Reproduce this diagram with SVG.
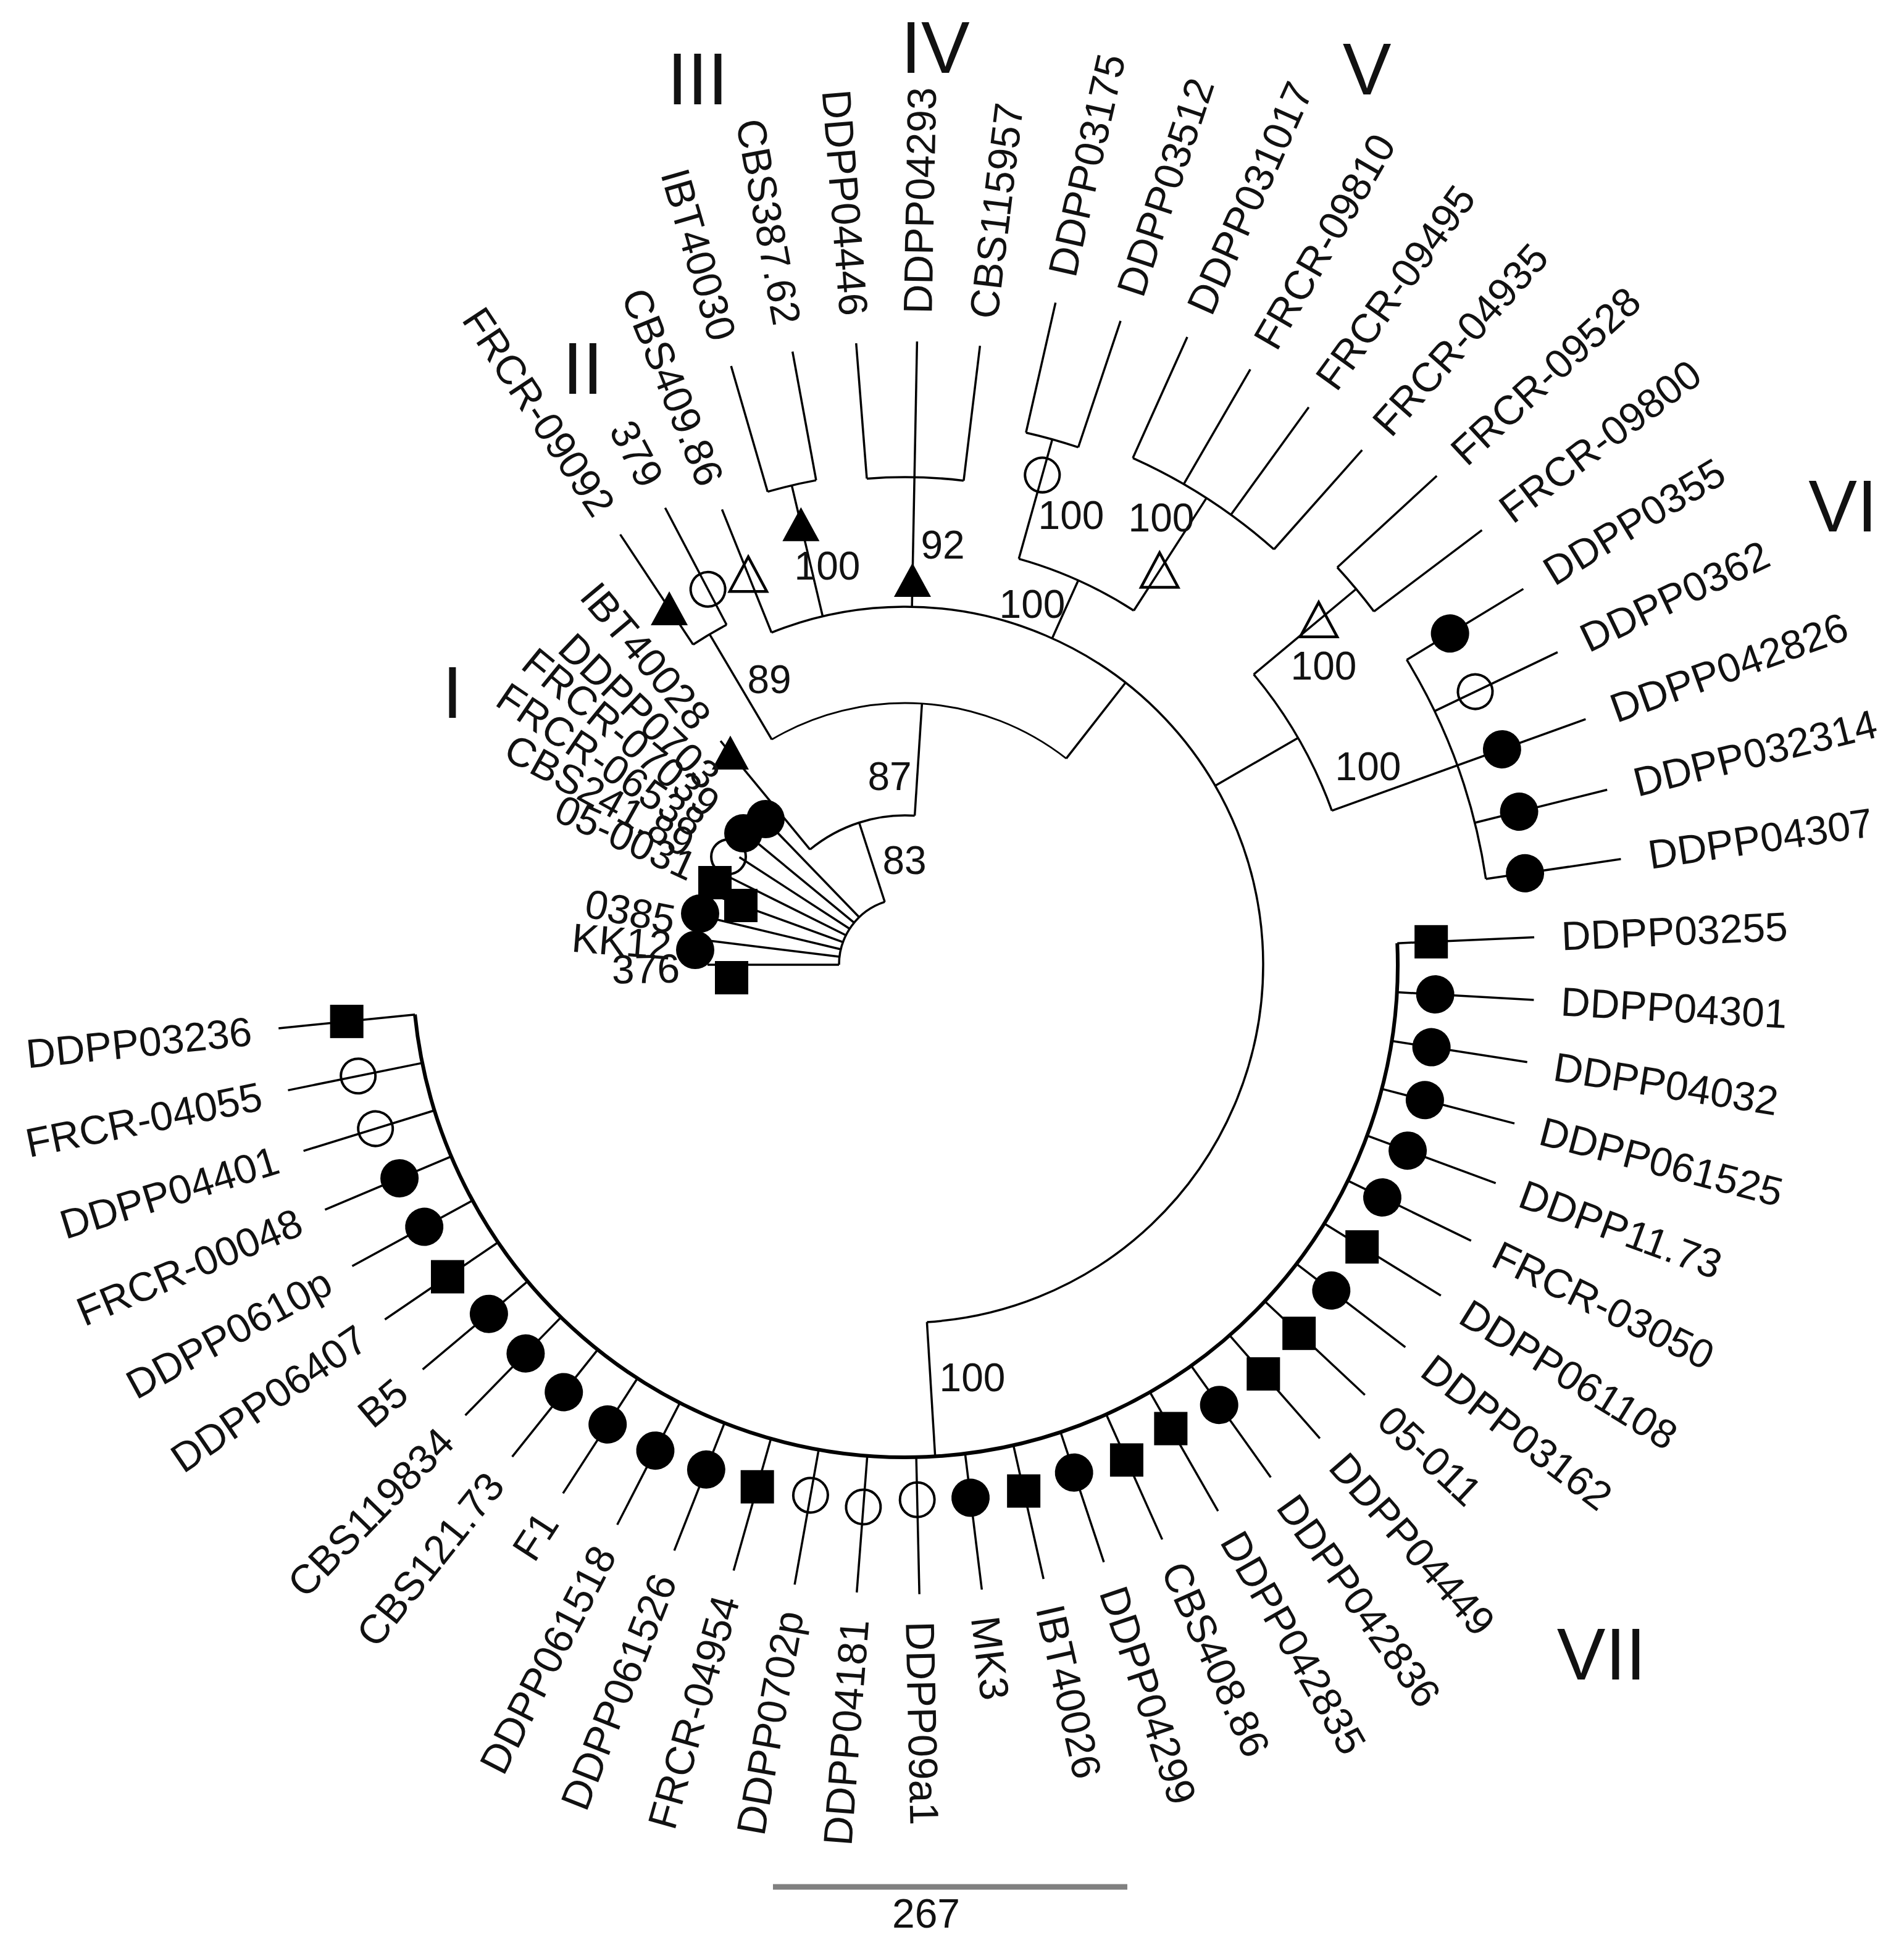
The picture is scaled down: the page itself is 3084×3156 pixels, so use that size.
<svg xmlns="http://www.w3.org/2000/svg" width="3084" height="3156" viewBox="0 0 3084 3156">
<defs>
<style>
.c path,.c circle{fill:none;stroke:#000;stroke-width:3.5}
text{font-family:"Liberation Sans",Arial,Helvetica,sans-serif;fill:#111}
.t{font-size:66px;dominant-baseline:central}
.e{text-anchor:end}
.bs{font-size:64px;text-anchor:middle;dominant-baseline:central}
.num{font-size:118px;text-anchor:middle;dominant-baseline:central}
</style>
<rect id="sq" x="-27" y="-27" width="54" height="54" fill="#000"/>
<circle id="fc" r="31" fill="#000"/>
<circle id="oc" r="28" fill="none" stroke="#000" stroke-width="4"/>
<path id="ft" d="M0 -28L30 27H-30Z" fill="#000"/>
<path id="ot" d="M0 -29L30 27H-30Z" fill="none" stroke="#000" stroke-width="4.5"/>
</defs>
<rect width="3084" height="3156" fill="#fff"/>

<g id="connectors" class="c" transform="translate(1466,1563)">
<circle r="107" pathLength="360" stroke-dasharray="72.1 9999" transform="rotate(-180)"/>
<circle r="242" pathLength="360" stroke-dasharray="43.2 9999" transform="rotate(-129.5)"/>
<circle r="424" pathLength="360" stroke-dasharray="68.6 9999" transform="rotate(-120.6)" style="stroke-width:2.8"/>
<circle r="580" pathLength="360" stroke-dasharray="198.4 9999" transform="rotate(-111.9)"/>
<circle r="622" pathLength="360" stroke-dasharray="5.8 9999" transform="rotate(-123.5)"/>
<circle r="798" pathLength="360" stroke-dasharray="5.8 9999" transform="rotate(-106.2)"/>
<circle r="790" pathLength="360" stroke-dasharray="11.4 9999" transform="rotate(-94.5)"/>
<circle r="683" pathLength="360" stroke-dasharray="17.2 9999" transform="rotate(-74.35)"/>
<circle r="884" pathLength="360" stroke-dasharray="5.7 9999" transform="rotate(-77.2)"/>
<circle r="900" pathLength="360" stroke-dasharray="17.4 9999" transform="rotate(-65.8)"/>
<circle r="735" pathLength="360" stroke-dasharray="19.95 9999" transform="rotate(-39.8)"/>
<circle r="951" pathLength="360" stroke-dasharray="5.6 9999" transform="rotate(-42.6)"/>
<circle r="951" pathLength="360" stroke-dasharray="22.9 9999" transform="rotate(-31.3)"/>
<circle r="798" pathLength="360" stroke-dasharray="176.7 9999" transform="rotate(-2.5)" style="stroke-width:6"/>
<!-- stems -->
<path d="M107 0H242" transform="rotate(-107.9)"/>
<path d="M242 0H470" transform="rotate(-129.5)"/>
<path d="M242 0H424" transform="rotate(-86.3)"/>
<path d="M424 0H622" transform="rotate(-120.6)"/>
<path d="M424 0H580" transform="rotate(-52)"/>
<path d="M580 0H798" transform="rotate(-103.3)"/>
<path d="M580 0H683" transform="rotate(-65.75)"/>
<path d="M683 0H884" transform="rotate(-74.35)"/>
<path d="M683 0H900" transform="rotate(-57.15)"/>
<path d="M580 0H735" transform="rotate(-30)"/>
<path d="M735 0H951" transform="rotate(-39.8)"/>
<path d="M580 0H798" transform="rotate(86.5)"/>
<!-- fan leaves (cluster I) -->
<path d="M107 0H320" transform="rotate(-134)"/>
<path d="M107 0H320" transform="rotate(-140.5)"/>
<path d="M107 0H320" transform="rotate(-147)"/>
<path d="M107 0H320" transform="rotate(-153.5)"/>
<path d="M107 0H320" transform="rotate(-160)"/>
<path d="M107 0H320" transform="rotate(-166.5)"/>
<path d="M107 0H320" transform="rotate(-173)"/>
<path d="M107 0H320" transform="rotate(-180)"/>
<!-- top leaves -->
<path d="M622 0H836" transform="rotate(-123.5)"/>
<path d="M622 0H836" transform="rotate(-117.7)"/>
<path d="M580 0H795" transform="rotate(-111.9)"/>
<path d="M798 0H1010" transform="rotate(-106.2)"/>
<path d="M798 0H1010" transform="rotate(-100.4)"/>
<path d="M790 0H1010" transform="rotate(-94.5)"/>
<path d="M580 0H1010" transform="rotate(-88.9)"/>
<path d="M790 0H1010" transform="rotate(-83.1)"/>
<path d="M884 0H1100" transform="rotate(-77.2)"/>
<path d="M884 0H1100" transform="rotate(-71.5)"/>
<path d="M900 0H1115" transform="rotate(-65.8)"/>
<path d="M900 0H1115" transform="rotate(-59.9)"/>
<path d="M900 0H1115" transform="rotate(-54.1)"/>
<path d="M900 0H1115" transform="rotate(-48.4)"/>
<path d="M951 0H1170" transform="rotate(-42.6)"/>
<path d="M951 0H1170" transform="rotate(-37)"/>
<path d="M951 0H1172" transform="rotate(-31.3)"/>
<path d="M951 0H1172" transform="rotate(-25.6)"/>
<path d="M735 0H1172" transform="rotate(-19.85)"/>
<path d="M951 0H1172" transform="rotate(-14)"/>
<path d="M951 0H1172" transform="rotate(-8.4)"/>
<!-- VII leaves -->
<path d="M798 0H1020" transform="rotate(-2.5)"/>
<path d="M798 0H1020" transform="rotate(3.2)"/>
<path d="M798 0H1020" transform="rotate(8.9)"/>
<path d="M798 0H1020" transform="rotate(14.6)"/>
<path d="M798 0H1020" transform="rotate(20.3)"/>
<path d="M798 0H1020" transform="rotate(26)"/>
<path d="M798 0H1020" transform="rotate(31.7)"/>
<path d="M798 0H1020" transform="rotate(37.4)"/>
<path d="M798 0H1020" transform="rotate(43.1)"/>
<path d="M798 0H1020" transform="rotate(48.8)"/>
<path d="M798 0H1020" transform="rotate(54.5)"/>
<path d="M798 0H1020" transform="rotate(60.2)"/>
<path d="M798 0H1020" transform="rotate(65.9)"/>
<path d="M798 0H1020" transform="rotate(71.6)"/>
<path d="M798 0H1020" transform="rotate(77.3)"/>
<path d="M798 0H1020" transform="rotate(83)"/>
<path d="M798 0H1020" transform="rotate(88.7)"/>
<path d="M798 0H1020" transform="rotate(94.4)"/>
<path d="M798 0H1020" transform="rotate(100.1)"/>
<path d="M798 0H1020" transform="rotate(105.8)"/>
<path d="M798 0H1020" transform="rotate(111.5)"/>
<path d="M798 0H1020" transform="rotate(117.2)"/>
<path d="M798 0H1020" transform="rotate(122.9)"/>
<path d="M798 0H1020" transform="rotate(128.6)"/>
<path d="M798 0H1020" transform="rotate(134.3)"/>
<path d="M798 0H1020" transform="rotate(140)"/>
<path d="M798 0H1020" transform="rotate(145.7)"/>
<path d="M798 0H1020" transform="rotate(151.4)"/>
<path d="M798 0H1020" transform="rotate(157.1)"/>
<path d="M798 0H1020" transform="rotate(162.8)"/>
<path d="M798 0H1020" transform="rotate(168.5)"/>
<path d="M798 0H1020" transform="rotate(174.2)"/>
</g>

<g id="nodes" transform="translate(1466,1563)">
<!-- cluster I -->
<g id="leaf-IBT40028"><use href="#ft" transform="rotate(-129.5) translate(445 0) rotate(129.5)"/><text class="t e" transform="rotate(-130) translate(510 0) rotate(180)">IBT40028</text></g>
<g id="leaf-DDPP0703"><use href="#fc" transform="translate(-226,-236)"/><text class="t e" transform="rotate(-136.3) translate(430 0) rotate(180)">DDPP0703</text></g>
<g id="leaf-FRCR-07039"><use href="#fc" transform="translate(-262,-213)"/><text class="t e" transform="rotate(-140.7) translate(400 0) rotate(180)">FRCR-07039</text></g>
<g id="leaf-FRCR-06538"><use href="#oc" transform="translate(-286,-175)"/><text class="t e" transform="rotate(-146) translate(400 0) rotate(180)">FRCR-06538</text></g>
<g id="leaf-CBS241.89"><use href="#sq" transform="translate(-308,-133)"/><text class="t e" transform="rotate(-151) translate(397 0) rotate(180)">CBS241.89</text></g>
<g id="leaf-05-0031"><use href="#sq" transform="translate(-266,-96)"/><text class="t e" transform="rotate(-155.5) translate(376 0) rotate(180)">05-0031</text></g>
<g id="leaf-0385"><use href="#fc" transform="translate(-332,-83)"/><text class="t e" transform="rotate(-169) translate(380 0) rotate(180)">0385</text></g>
<g id="leaf-KK12"><use href="#fc" transform="translate(-340,-24)"/><text class="t e" transform="rotate(-175.3) translate(380 0) rotate(180)">KK12</text></g>
<g id="leaf-376"><use href="#sq" transform="translate(-281,21)"/><text class="t e" transform="rotate(-180.9) translate(365 0) rotate(180)">376</text></g>
<!-- II -->
<g id="leaf-FRCR-09092"><use href="#ft" transform="rotate(-123.5) translate(692 0) rotate(123.5)"/><text class="t e" transform="rotate(-123.5) translate(880 0) rotate(180)">FRCR-09092</text></g>
<g id="leaf-379"><use href="#oc" transform="rotate(-117.7) translate(687 0)"/><text class="t e" transform="rotate(-117.7) translate(880 0) rotate(180)">379</text></g>
<g id="leaf-CBS409.86"><use href="#ot" transform="rotate(-111.9) translate(681 0) rotate(111.9)"/><text class="t e" transform="rotate(-111.9) translate(840 0) rotate(180)">CBS409.86</text></g>
<!-- III -->
<g id="node-III"><use href="#ft" transform="rotate(-103.3) translate(733 0) rotate(103.3)"/></g>
<g id="leaf-IBT40030"><text class="t e" transform="rotate(-106.2) translate(1055 0) rotate(180)">IBT40030</text></g>
<g id="leaf-CBS387.62"><text class="t e" transform="rotate(-100.4) translate(1055 0) rotate(180)">CBS387.62</text></g>
<!-- IV -->
<g id="node-IV"><use href="#ft" transform="rotate(-88.9) translate(623 0) rotate(88.9)"/></g>
<g id="leaf-DDPP04446"><text class="t e" transform="rotate(-94.5) translate(1055 0) rotate(180)">DDPP04446</text></g>
<g id="leaf-DDPP04293"><text class="t" transform="rotate(-88.9) translate(1055 0)">DDPP04293</text></g>
<g id="leaf-CBS115957"><text class="t" transform="rotate(-83.1) translate(1055 0)">CBS115957</text></g>
<!-- V -->
<g id="node-V1"><use href="#oc" transform="rotate(-74.35) translate(824 0)"/></g>
<g id="leaf-DDPP03175"><text class="t" transform="rotate(-77.2) translate(1145 0)">DDPP03175</text></g>
<g id="leaf-DDPP03512"><text class="t" transform="rotate(-71.5) translate(1145 0)">DDPP03512</text></g>
<g id="node-V2"><use href="#ot" transform="rotate(-57.15) translate(760 0) rotate(57.15)"/></g>
<g id="leaf-DDPP031017"><text class="t" transform="rotate(-65.8) translate(1160 0)">DDPP031017</text></g>
<g id="leaf-FRCR-09810"><text class="t" transform="rotate(-59.9) translate(1160 0)">FRCR-09810</text></g>
<g id="leaf-FRCR-09495"><text class="t" transform="rotate(-54.1) translate(1160 0)">FRCR-09495</text></g>
<g id="leaf-FRCR-04935"><text class="t" transform="rotate(-48.4) translate(1160 0)">FRCR-04935</text></g>
<g id="node-V3"><use href="#ot" transform="rotate(-39.8) translate(872 0) rotate(39.8)"/></g>
<g id="leaf-FRCR-09528"><text class="t" transform="rotate(-42.6) translate(1215 0)">FRCR-09528</text></g>
<g id="leaf-FRCR-09800"><text class="t" transform="rotate(-37) translate(1215 0)">FRCR-09800</text></g>
<!-- VI -->
<g id="leaf-DDPP0355"><use href="#fc" transform="rotate(-31.3) translate(1033 0)"/><text class="t" transform="rotate(-31.3) translate(1217 0)">DDPP0355</text></g>
<g id="leaf-DDPP0362"><use href="#oc" transform="rotate(-25.6) translate(1024 0)"/><text class="t" transform="rotate(-25.6) translate(1217 0)">DDPP0362</text></g>
<g id="leaf-DDPP042826"><use href="#fc" transform="rotate(-19.85) translate(1028 0)"/><text class="t" transform="rotate(-19.85) translate(1217 0)">DDPP042826</text></g>
<g id="leaf-DDPP032314"><use href="#fc" transform="rotate(-14) translate(1025 0)"/><text class="t" transform="rotate(-14) translate(1217 0)">DDPP032314</text></g>
<g id="leaf-DDPP04307"><use href="#fc" transform="rotate(-8.4) translate(1015 0)"/><text class="t" transform="rotate(-8.4) translate(1217 0)">DDPP04307</text></g>
<!-- VII -->
<g id="leaf-DDPP03255"><use href="#sq" transform="rotate(-2.5) translate(853 0) rotate(2.5)"/><text class="t" transform="rotate(-2.5) translate(1064 0)">DDPP03255</text></g>
<g id="leaf-DDPP04301"><use href="#fc" transform="rotate(3.2) translate(860 0)"/><text class="t" transform="rotate(3.2) translate(1064 0)">DDPP04301</text></g>
<g id="leaf-DDPP04032"><use href="#fc" transform="rotate(8.9) translate(863 0)"/><text class="t" transform="rotate(8.9) translate(1064 0)">DDPP04032</text></g>
<g id="leaf-DDPP061525"><use href="#fc" transform="rotate(14.6) translate(870 0)"/><text class="t" transform="rotate(14.6) translate(1064 0)">DDPP061525</text></g>
<g id="leaf-DDPP11.73"><use href="#fc" transform="rotate(20.3) translate(868 0)"/><text class="t" transform="rotate(20.3) translate(1064 0)">DDPP11.73</text></g>
<g id="leaf-FRCR-03050"><use href="#fc" transform="rotate(26) translate(860 0)"/><text class="t" transform="rotate(26) translate(1064 0)">FRCR-03050</text></g>
<g id="leaf-DDPP061108"><use href="#sq" transform="rotate(31.7) translate(870 0) rotate(-31.7)"/><text class="t" transform="rotate(31.7) translate(1064 0)">DDPP061108</text></g>
<g id="leaf-DDPP03162"><use href="#fc" transform="rotate(37.4) translate(869 0)"/><text class="t" transform="rotate(37.4) translate(1064 0)">DDPP03162</text></g>
<g id="leaf-05-011"><use href="#sq" transform="rotate(43.1) translate(874 0) rotate(-43.1)"/><text class="t" transform="rotate(43.1) translate(1064 0)">05-011</text></g>
<g id="leaf-DDPP04449"><use href="#sq" transform="rotate(48.8) translate(881 0) rotate(-48.8)"/><text class="t" transform="rotate(48.8) translate(1064 0)">DDPP04449</text></g>
<g id="leaf-DDPP042836"><use href="#fc" transform="rotate(54.5) translate(876 0)"/><text class="t" transform="rotate(54.5) translate(1064 0)">DDPP042836</text></g>
<g id="leaf-DDPP042835"><use href="#sq" transform="rotate(60.2) translate(866 0) rotate(-60.2)"/><text class="t" transform="rotate(60.2) translate(1064 0)">DDPP042835</text></g>
<g id="leaf-CBS408.86"><use href="#sq" transform="rotate(65.9) translate(879 0) rotate(-65.9)"/><text class="t" transform="rotate(65.9) translate(1064 0)">CBS408.86</text></g>
<g id="leaf-DDPP04299"><use href="#fc" transform="rotate(71.6) translate(867 0)"/><text class="t" transform="rotate(71.6) translate(1064 0)">DDPP04299</text></g>
<g id="leaf-IBT40026"><use href="#sq" transform="rotate(77.3) translate(874 0) rotate(-77.3)"/><text class="t" transform="rotate(77.3) translate(1064 0)">IBT40026</text></g>
<g id="leaf-MK3"><use href="#fc" transform="rotate(83) translate(870 0)"/><text class="t" transform="rotate(83) translate(1064 0)">MK3</text></g>
<g id="leaf-DDPP09a1"><use href="#oc" transform="rotate(88.7) translate(867 0)"/><text class="t" transform="rotate(88.7) translate(1064 0)">DDPP09a1</text></g>
<g id="leaf-DDPP04181"><use href="#oc" transform="rotate(94.4) translate(881 0)"/><text class="t e" transform="rotate(94.4) translate(1064 0) rotate(180)">DDPP04181</text></g>
<g id="leaf-DDPP0702p"><use href="#oc" transform="rotate(100.1) translate(873 0)"/><text class="t e" transform="rotate(100.1) translate(1064 0) rotate(180)">DDPP0702p</text></g>
<g id="leaf-FRCR-04954"><use href="#sq" transform="rotate(105.8) translate(879 0) rotate(-105.8)"/><text class="t e" transform="rotate(105.8) translate(1064 0) rotate(180)">FRCR-04954</text></g>
<g id="leaf-DDPP061526"><use href="#fc" transform="rotate(111.5) translate(879 0)"/><text class="t e" transform="rotate(111.5) translate(1064 0) rotate(180)">DDPP061526</text></g>
<g id="leaf-DDPP061518"><use href="#fc" transform="rotate(117.2) translate(885 0)"/><text class="t e" transform="rotate(117.2) translate(1064 0) rotate(180)">DDPP061518</text></g>
<g id="leaf-F1"><use href="#fc" transform="rotate(122.9) translate(887 0)"/><text class="t e" transform="rotate(122.9) translate(1064 0) rotate(180)">F1</text></g>
<g id="leaf-CBS121.73"><use href="#fc" transform="rotate(128.6) translate(886 0)"/><text class="t e" transform="rotate(128.6) translate(1064 0) rotate(180)">CBS121.73</text></g>
<g id="leaf-CBS119834"><use href="#fc" transform="rotate(134.3) translate(880 0)"/><text class="t e" transform="rotate(134.3) translate(1064 0) rotate(180)">CBS119834</text></g>
<g id="leaf-B5"><use href="#fc" transform="rotate(140) translate(880 0)"/><text class="t e" transform="rotate(140) translate(1064 0) rotate(180)">B5</text></g>
<g id="leaf-DDPP06407"><use href="#sq" transform="rotate(145.7) translate(897 0) rotate(-145.7)"/><text class="t e" transform="rotate(145.7) translate(1064 0) rotate(180)">DDPP06407</text></g>
<g id="leaf-DDPP0610p"><use href="#fc" transform="rotate(151.4) translate(887 0)"/><text class="t e" transform="rotate(151.4) translate(1064 0) rotate(180)">DDPP0610p</text></g>
<g id="leaf-FRCR-00048"><use href="#fc" transform="rotate(157.1) translate(889 0)"/><text class="t e" transform="rotate(157.1) translate(1064 0) rotate(180)">FRCR-00048</text></g>
<g id="leaf-DDPP04401"><use href="#oc" transform="rotate(162.8) translate(898 0)"/><text class="t e" transform="rotate(162.8) translate(1064 0) rotate(180)">DDPP04401</text></g>
<g id="leaf-FRCR-04055"><use href="#oc" transform="rotate(168.5) translate(904 0)"/><text class="t e" transform="rotate(168.5) translate(1064 0) rotate(180)">FRCR-04055</text></g>
<g id="leaf-DDPP03236"><use href="#sq" transform="rotate(174.2) translate(909 0) rotate(-174.2)"/><text class="t e" transform="rotate(174.2) translate(1064 0) rotate(180)">DDPP03236</text></g>
</g>

<g id="bootstrap">
<text class="bs" x="1575" y="2232">100</text>
<text class="bs" x="1441" y="1258">87</text>
<text class="bs" x="1465" y="1394">83</text>
<text class="bs" x="1246" y="1101">89</text>
<text class="bs" x="1527" y="883">92</text>
<text class="bs" x="1340" y="917">100</text>
<text class="bs" x="1672" y="979">100</text>
<text class="bs" x="1735" y="835">100</text>
<text class="bs" x="1881" y="839">100</text>
<text class="bs" x="2144" y="1079">100</text>
<text class="bs" x="2216" y="1242">100</text>
</g>

<g id="clade-labels">
<text class="num" x="733" y="1122">I</text>
<text class="num" x="944" y="597">II</text>
<text class="num" x="1130" y="128">III</text>
<text class="num" x="1515" y="77">IV</text>
<text class="num" x="2214" y="112">V</text>
<text class="num" x="2985" y="820">VI</text>
<text class="num" x="2594" y="2680">VII</text>
</g>

<g id="scale-bar">
<path d="M1252 3057H1826" stroke="#808080" stroke-width="9"/>
<text class="bs" x="1500" y="3100" style="font-size:66px">267</text>
</g>
</svg>
